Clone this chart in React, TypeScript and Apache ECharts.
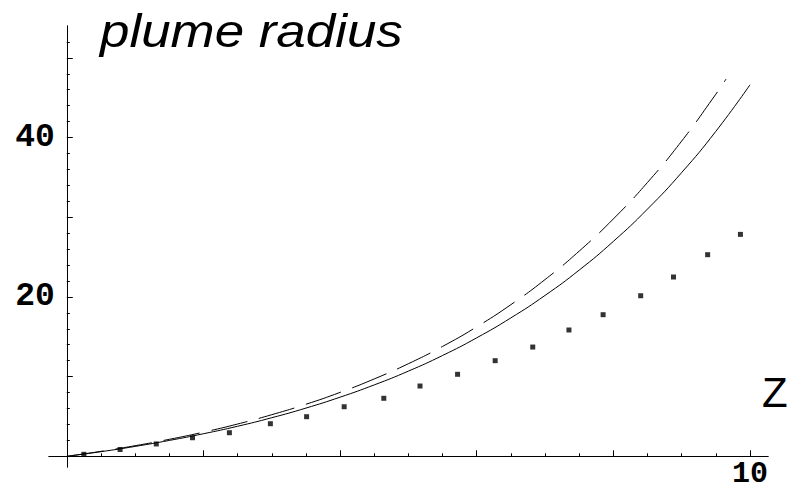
import React, { useEffect, useRef } from "react";
import * as echarts from "echarts";

// Height z (x axis) sampled for the two continuous curves
const zValues = [0, 0.5, 1, 1.5, 2, 2.5, 3, 3.5, 4, 4.5, 5, 5.5, 6, 6.5, 7, 7.5, 8, 8.5, 9, 9.5, 10];
// Solid curve: plume radius
const solidRadius = [0, 0.58, 1.24, 1.99, 2.83, 3.77, 4.84, 6.05, 7.42, 8.96, 10.69, 12.65, 14.87, 17.37, 20.19, 23.37, 26.97, 31.03, 35.61, 40.78, 46.62];
// Dashed curve
const dashedZ = [0, 0.5, 1, 1.5, 2, 2.5, 3, 3.5, 4, 4.5, 5, 5.5, 6, 6.5, 7, 7.5, 8, 8.5, 9, 9.5, 9.65];
const dashedRadius = [0, 0.62, 1.33, 2.13, 3.03, 4.05, 5.22, 6.53, 8.02, 9.71, 11.62, 13.79, 16.25, 19.03, 22.18, 25.75, 29.79, 34.37, 39.56, 45.44, 47.35];
// Dotted curve (isolated dots)
const dotZ = [0.25, 0.78, 1.31, 1.84, 2.38, 2.98, 3.51, 4.06, 4.64, 5.17, 5.72, 6.27, 6.82, 7.35, 7.85, 8.4, 8.88, 9.38, 9.86];
const dotRadius = [0.25, 0.85, 1.55, 2.33, 2.96, 4.09, 4.97, 6.22, 7.28, 8.82, 10.29, 12.0, 13.71, 15.85, 17.77, 20.15, 22.5, 25.3, 27.85];

// Ticks and labels
const xMinorTicks = [0.5, 1, 1.5, 2.5, 3, 3.5, 4.5, 5, 5.5, 6.5, 7, 7.5, 8.5, 9, 9.5];
const xMajorTicks = [2, 4, 6, 8, 10];
const xTickLabels = [10];
const yMinorTicks = [2, 4, 6, 8, 12, 14, 16, 18, 22, 24, 26, 28, 32, 34, 36, 38, 42, 44, 46, 48, 52];
const yMajorTicks = [10, 20, 30, 40, 50];
const yTickLabels = [20, 40];

const titleText = "plume radius";
const xAxisName = "Z";

export default function App() {
  const ref = useRef<HTMLDivElement>(null);

  useEffect(() => {
    if (!ref.current) return;
    const chart = echarts.init(ref.current, null, { renderer: "svg" });
    const black = "#000";
    const labelFont = {
      color: black,
      fontFamily: "Liberation Mono",
      fontWeight: "bold" as const,
      fontSize: 33,
      lineHeight: 26,
    };
    const gridLeft = 49;
    const gridBottom = 26;
    const xMin = -0.2605;
    const xMax = 10.2635;
    const yMin = -1.343;
    const yMax = 54.0;
    // distance from the grid edges to the zero lines (y-axis at z=0, x-axis at r=0)
    const yAxisShift = (0 - xMin) * (719 / (xMax - xMin));
    const xAxisShift = (0 - yMin) * (441 / (yMax - yMin));

    const baseX = {
      type: "value" as const,
      min: xMin,
      max: xMax,
      position: "bottom" as const,
      splitLine: { show: false },
    };
    const baseY = {
      type: "value" as const,
      min: yMin,
      max: yMax,
      position: "left" as const,
      splitLine: { show: false },
    };

    chart.setOption({
      animation: false,
      backgroundColor: "#fff",
      grid: { left: gridLeft, right: 24, top: 26, bottom: gridBottom, containLabel: false, outerBoundsMode: "none" },
      xAxis: [
        {
          ...baseX,
          offset: -xAxisShift,
          axisLine: { show: true, onZero: false, lineStyle: { color: black, width: 1 } },
          axisTick: { show: true, inside: true, length: 3, customValues: xMinorTicks, lineStyle: { color: black, width: 1 } },
          axisLabel: { show: false },
        },
        {
          ...baseX,
          offset: -xAxisShift,
          axisLine: { show: true, onZero: false, lineStyle: { color: black, width: 1 } },
          axisTick: { show: true, inside: true, length: 6, customValues: xMajorTicks, lineStyle: { color: black, width: 1 } },
          axisLabel: { show: true, customValues: xTickLabels, margin: 5, ...labelFont, fontSize: 30 },
        },
      ],
      yAxis: [
        {
          ...baseY,
          offset: -yAxisShift,
          axisLine: { show: true, onZero: false, lineStyle: { color: black, width: 1 } },
          axisTick: { show: true, inside: true, length: 3, customValues: yMinorTicks, lineStyle: { color: black, width: 1 } },
          axisLabel: { show: false },
        },
        {
          ...baseY,
          offset: -yAxisShift,
          axisLine: { show: true, onZero: false, lineStyle: { color: black, width: 1 } },
          axisTick: { show: true, inside: true, length: 6, customValues: yMajorTicks, lineStyle: { color: black, width: 1 } },
          axisLabel: { show: true, customValues: yTickLabels, margin: 12, ...labelFont },
        },
      ],
      graphic: [
        {
          type: "text",
          x: 100,
          y: 31,
          scaleX: 1.15,
          style: {
            text: titleText,
            fill: black,
            font: "italic 46px 'Liberation Sans'",
            align: "left",
            verticalAlign: "middle",
          },
        },
        {
          type: "text",
          x: 762,
          y: 392,
          style: {
            text: xAxisName,
            fill: black,
            font: "42px 'Liberation Sans'",
            align: "left",
            verticalAlign: "middle",
          },
        },
      ],
      series: [
        {
          type: "line",
          xAxisIndex: 0,
          yAxisIndex: 0,
          data: zValues.map((z, i) => [z, solidRadius[i]]),
          showSymbol: false,
          smooth: true,
          lineStyle: { color: black, width: 1 },
        },
        {
          type: "line",
          xAxisIndex: 0,
          yAxisIndex: 0,
          data: dashedZ.map((z, i) => [z, dashedRadius[i]]),
          showSymbol: false,
          smooth: true,
          lineStyle: { color: black, width: 1, type: [37, 12] },
        },
        {
          type: "scatter",
          xAxisIndex: 0,
          yAxisIndex: 0,
          data: dotZ.map((z, i) => [z, dotRadius[i]]),
          symbol: "rect",
          symbolSize: 5,
          itemStyle: { color: black },
        },
      ],
    });
    return () => chart.dispose();
  }, []);

  return (
    <div
      ref={ref}
      style={{ position: "fixed", left: 0, top: 0, width: 792, height: 493, background: "#fff" }}
    />
  );
}
